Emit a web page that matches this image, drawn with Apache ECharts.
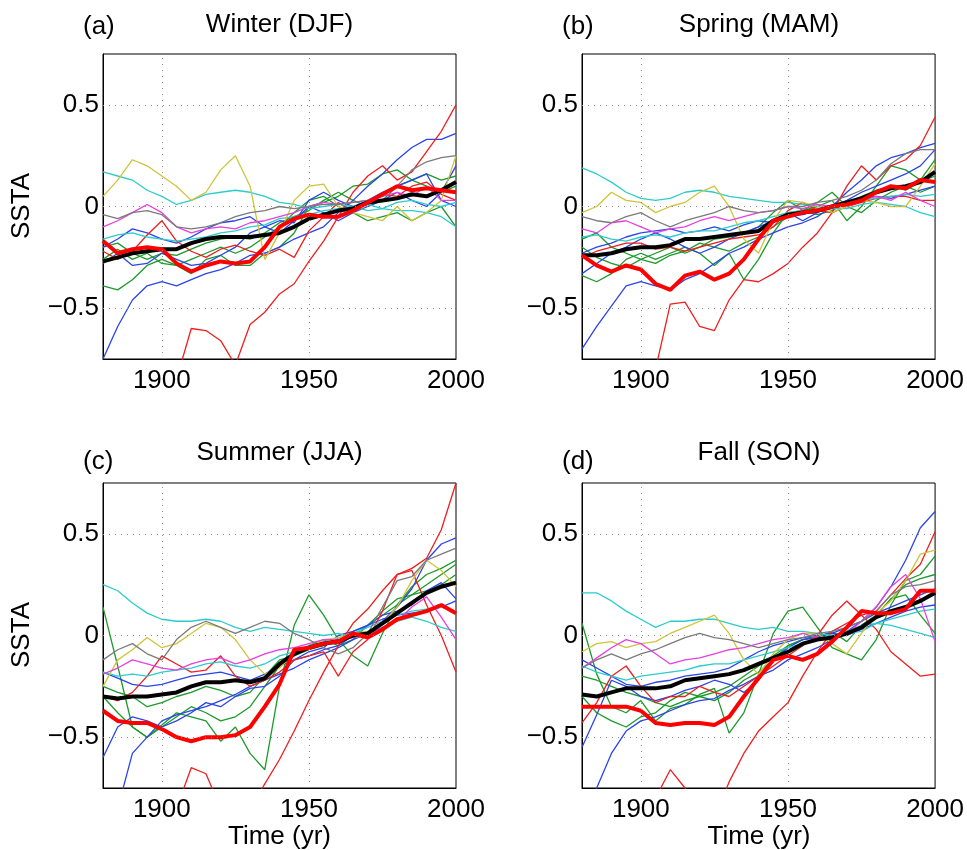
<!DOCTYPE html>
<html>
<head>
<meta charset="utf-8">
<script src="https://cdn.jsdelivr.net/npm/echarts@6/dist/echarts.min.js"></script>
<style>
  html, body { margin: 0; padding: 0; background: #fff; }
  #chart { width: 967px; height: 850px; }
</style>
</head>
<body>
<div id="chart"></div>
<script>
// years, 5-year steps
var years = [1880,1885,1890,1895,1900,1905,1910,1915,1920,1925,1930,1935,1940,1945,1950,1955,1960,1965,1970,1975,1980,1985,1990,1995,2000];
var xTicks = [1900, 1950, 2000];
var yTicks = [-0.5, 0, 0.5];

// (a) Winter (DJF)
var a_black = [-0.27,-0.25,-0.23,-0.22,-0.21,-0.21,-0.18,-0.16,-0.15,-0.15,-0.15,-0.14,-0.13,-0.10,-0.06,-0.04,-0.02,-0.01,0.02,0.03,0.04,0.06,0.05,0.08,0.12];
var a_redThick = [-0.17,-0.23,-0.21,-0.20,-0.21,-0.28,-0.32,-0.29,-0.27,-0.28,-0.27,-0.20,-0.10,-0.06,-0.04,-0.05,-0.05,-0.02,0.02,0.06,0.10,0.08,0.09,0.08,0.07];
var a_red1 = [-0.95,-0.95,-0.95,-0.93,-0.90,-0.85,-0.60,-0.61,-0.66,-0.78,-0.58,-0.52,-0.43,-0.38,-0.27,-0.17,-0.05,0.07,0.15,0.20,0.13,0.17,0.27,0.37,0.50];
var a_red2 = [-0.22,-0.26,-0.22,-0.14,-0.07,-0.17,-0.22,-0.25,-0.21,-0.19,-0.22,-0.24,-0.21,-0.25,-0.12,-0.05,0.02,-0.03,0.03,0.06,0.05,0.10,0.12,0.06,0.03];
var a_cyan1 = [0.17,0.15,0.13,0.08,0.05,0.01,0.03,0.06,0.07,0.08,0.07,0.05,0.02,0.01,-0.01,0.00,0.01,0.00,-0.02,-0.01,-0.02,-0.02,-0.03,-0.05,-0.10];
var a_cyan2 = [-0.16,-0.14,-0.13,-0.15,-0.16,-0.17,-0.16,-0.15,-0.13,-0.12,-0.10,-0.09,-0.06,-0.05,-0.04,-0.02,-0.01,0.00,0.01,-0.01,0.02,0.03,0.01,0.00,0.02];
var a_yellow = [0.05,0.13,0.23,0.20,0.15,0.10,0.03,0.07,0.18,0.25,0.10,-0.26,-0.13,0.03,0.10,0.11,0.00,-0.03,-0.05,-0.07,0.00,-0.07,-0.03,0.03,0.25];
var a_magenta = [-0.10,-0.07,-0.03,0.01,-0.03,-0.10,-0.13,-0.11,-0.10,-0.11,-0.08,-0.07,-0.05,-0.03,0.00,0.02,0.01,0.02,0.03,0.05,0.07,0.05,0.10,0.03,0.03];
var a_gray = [-0.04,-0.06,-0.03,-0.02,-0.04,-0.10,-0.11,-0.10,-0.08,-0.05,-0.03,-0.02,0.00,-0.01,0.00,0.01,0.01,0.02,0.03,0.05,0.10,0.18,0.22,0.24,0.25];
var a_blue1 = [-0.75,-0.59,-0.46,-0.39,-0.37,-0.39,-0.36,-0.33,-0.31,-0.28,-0.24,-0.23,-0.20,-0.16,-0.13,-0.10,-0.03,0.03,0.10,0.16,0.23,0.29,0.33,0.33,0.36];
var a_blue2 = [-0.28,-0.23,-0.29,-0.28,-0.23,-0.26,-0.29,-0.28,-0.24,-0.20,-0.13,-0.10,-0.07,-0.08,0.03,0.07,0.03,0.00,0.03,0.07,0.10,0.13,0.16,0.03,0.00];
var a_blue3 = [-0.20,-0.16,-0.11,-0.13,-0.16,-0.18,-0.15,-0.11,-0.08,-0.07,-0.05,-0.10,-0.13,-0.07,0.00,-0.03,-0.07,-0.03,0.00,0.03,0.07,0.03,0.00,0.07,0.20];
var a_green1 = [-0.39,-0.41,-0.36,-0.29,-0.26,-0.29,-0.33,-0.26,-0.24,-0.29,-0.29,-0.23,-0.20,-0.13,0.00,0.02,0.05,0.10,0.11,0.16,0.18,0.13,0.16,0.13,0.15];
var a_green2 = [-0.26,-0.21,-0.26,-0.23,-0.28,-0.29,-0.26,-0.23,-0.20,-0.23,-0.20,-0.15,-0.10,-0.03,0.03,0.05,0.00,-0.03,-0.07,-0.05,-0.03,-0.07,-0.03,0.00,-0.10];
var a_green3 = [-0.20,-0.18,-0.23,-0.26,-0.23,-0.24,-0.21,-0.18,-0.16,-0.15,-0.16,-0.13,-0.08,-0.05,-0.02,0.03,0.07,0.03,0.00,0.03,0.10,0.13,0.10,0.07,0.10];

// (b) Spring (MAM)
var b_black = [-0.24,-0.24,-0.23,-0.21,-0.20,-0.20,-0.19,-0.16,-0.16,-0.15,-0.14,-0.13,-0.12,-0.07,-0.04,-0.03,-0.02,0.00,0.02,0.04,0.07,0.09,0.10,0.12,0.17];
var b_redThick = [-0.24,-0.29,-0.32,-0.29,-0.31,-0.38,-0.41,-0.34,-0.32,-0.36,-0.33,-0.26,-0.16,-0.07,-0.05,-0.03,-0.02,0.00,0.01,0.03,0.07,0.10,0.09,0.13,0.12];
var b_red1 = [-0.95,-0.95,-0.95,-0.95,-0.90,-0.80,-0.48,-0.47,-0.59,-0.61,-0.46,-0.36,-0.37,-0.33,-0.28,-0.20,-0.13,-0.03,0.10,0.20,0.13,0.20,0.23,0.30,0.44];
var b_red2 = [-0.25,-0.22,-0.20,-0.18,-0.18,-0.21,-0.20,-0.22,-0.20,-0.18,-0.16,-0.15,-0.14,-0.10,-0.02,0.02,-0.02,-0.03,0.00,0.02,0.04,0.05,0.05,0.03,0.03];
var b_cyan1 = [0.19,0.16,0.12,0.07,0.04,0.03,0.04,0.07,0.08,0.07,0.05,0.04,0.03,0.02,0.02,0.01,0.00,-0.01,-0.01,0.01,0.02,0.01,0.00,-0.03,-0.05];
var b_cyan2 = [-0.15,-0.14,-0.16,-0.17,-0.15,-0.14,-0.15,-0.13,-0.12,-0.12,-0.10,-0.08,-0.07,-0.05,-0.03,-0.02,-0.02,0.00,0.02,0.03,0.04,0.05,0.06,0.05,0.06];
var b_yellow = [-0.03,0.00,0.07,0.03,0.02,-0.03,0.00,0.02,0.07,0.10,0.00,-0.16,-0.23,-0.07,0.03,0.02,0.00,-0.03,0.00,0.03,0.02,0.00,0.00,0.10,0.21];
var b_magenta = [-0.11,-0.13,-0.08,-0.07,-0.10,-0.13,-0.11,-0.10,-0.07,-0.05,-0.07,-0.05,-0.03,-0.02,0.00,-0.01,0.01,0.00,0.02,0.03,0.05,0.03,0.07,0.03,0.00];
var b_gray = [-0.05,-0.07,-0.08,-0.05,-0.03,-0.07,-0.10,-0.07,-0.05,-0.03,0.00,-0.02,-0.03,-0.02,0.00,0.00,0.02,0.03,0.05,0.08,0.13,0.21,0.26,0.28,0.28];
var b_blue1 = [-0.70,-0.59,-0.49,-0.39,-0.37,-0.39,-0.41,-0.36,-0.33,-0.28,-0.23,-0.20,-0.16,-0.13,-0.10,-0.08,-0.05,0.00,0.07,0.13,0.20,0.24,0.26,0.29,0.31];
var b_blue2 = [-0.33,-0.28,-0.23,-0.20,-0.16,-0.13,-0.16,-0.20,-0.23,-0.20,-0.16,-0.13,-0.10,-0.07,-0.03,-0.07,-0.03,0.00,0.03,0.07,0.10,0.13,0.16,0.20,0.28];
var b_blue3 = [-0.23,-0.20,-0.18,-0.15,-0.13,-0.12,-0.11,-0.13,-0.12,-0.10,-0.12,-0.09,-0.07,-0.08,-0.05,-0.04,-0.02,-0.01,0.02,0.04,0.05,0.04,0.06,0.08,0.10];
var b_green1 = [-0.34,-0.37,-0.33,-0.26,-0.23,-0.26,-0.23,-0.20,-0.23,-0.29,-0.23,-0.36,-0.26,-0.13,-0.03,-0.02,0.00,0.03,-0.07,0.00,0.10,0.20,0.18,0.13,0.23];
var b_green2 = [-0.16,-0.13,-0.20,-0.23,-0.26,-0.23,-0.20,-0.23,-0.20,-0.16,-0.15,-0.13,-0.10,-0.03,0.03,-0.02,0.02,0.07,0.00,-0.03,0.03,0.07,0.10,0.07,0.10];
var b_green3 = [-0.20,-0.25,-0.28,-0.30,-0.26,-0.28,-0.24,-0.22,-0.18,-0.20,-0.22,-0.18,-0.15,-0.10,-0.05,-0.02,-0.04,-0.02,0.02,0.05,0.08,0.10,0.08,0.12,0.15];

// (c) Summer (JJA)
var c_black = [-0.30,-0.31,-0.30,-0.30,-0.29,-0.28,-0.25,-0.23,-0.23,-0.22,-0.23,-0.21,-0.14,-0.09,-0.06,-0.04,-0.03,0.00,0.01,0.06,0.11,0.16,0.21,0.24,0.26];
var c_redThick = [-0.37,-0.42,-0.43,-0.43,-0.46,-0.50,-0.52,-0.50,-0.50,-0.49,-0.45,-0.35,-0.24,-0.07,-0.06,-0.04,-0.03,0.01,-0.01,0.03,0.08,0.10,0.12,0.15,0.11];
var c_red1 = [-0.95,-0.95,-0.95,-0.95,-0.92,-0.85,-0.65,-0.68,-0.85,-0.95,-0.85,-0.73,-0.61,-0.47,-0.32,-0.18,-0.05,0.06,0.13,0.22,0.30,0.33,0.38,0.52,0.75];
var c_red2 = [-0.30,-0.32,-0.28,-0.20,-0.10,-0.14,-0.18,-0.17,-0.10,-0.20,-0.25,-0.22,-0.18,-0.12,-0.10,-0.08,-0.20,-0.08,-0.02,0.12,0.30,0.32,0.15,0.00,-0.18];
var c_cyan1 = [0.25,0.22,0.16,0.11,0.08,0.07,0.07,0.08,0.07,0.04,0.02,0.04,0.03,0.02,0.01,0.00,0.01,-0.01,0.00,0.04,0.07,0.09,0.07,0.04,0.02];
var c_cyan2 = [-0.18,-0.20,-0.19,-0.20,-0.18,-0.17,-0.16,-0.14,-0.13,-0.15,-0.16,-0.14,-0.10,-0.08,-0.05,-0.03,-0.01,0.01,0.04,0.07,0.10,0.12,0.13,0.14,0.12];
var c_yellow = [-0.25,-0.12,-0.07,-0.01,-0.06,-0.04,0.01,0.06,0.04,-0.02,-0.12,-0.19,-0.16,-0.09,-0.06,-0.02,-0.01,0.01,0.02,0.06,0.14,0.27,0.37,0.32,0.24];
var c_magenta = [-0.19,-0.16,-0.12,-0.14,-0.16,-0.17,-0.14,-0.12,-0.11,-0.14,-0.12,-0.09,-0.07,-0.06,-0.04,-0.02,-0.02,-0.01,0.01,0.04,0.07,0.14,0.19,0.09,-0.02];
var c_gray = [-0.12,-0.07,-0.04,-0.09,-0.12,-0.02,0.04,0.07,0.04,0.01,0.04,0.07,0.06,0.01,-0.02,-0.06,-0.09,-0.06,0.01,0.14,0.27,0.29,0.37,0.40,0.43];
var c_blue1 = [-0.95,-0.85,-0.58,-0.50,-0.42,-0.39,-0.37,-0.35,-0.32,-0.29,-0.25,-0.22,-0.19,-0.16,-0.12,-0.09,-0.06,-0.02,0.01,0.07,0.14,0.23,0.37,0.45,0.48];
var c_blue2 = [-0.60,-0.45,-0.40,-0.42,-0.45,-0.42,-0.38,-0.33,-0.35,-0.30,-0.26,-0.25,-0.20,-0.12,-0.08,-0.06,0.00,0.02,0.05,0.10,0.12,0.15,0.22,0.26,0.18];
var c_blue3 = [-0.18,-0.21,-0.24,-0.25,-0.24,-0.22,-0.20,-0.19,-0.18,-0.20,-0.22,-0.19,-0.15,-0.12,-0.10,-0.07,-0.05,0.00,0.05,0.08,0.10,0.11,0.12,0.14,0.17];
var c_green1 = [0.14,-0.15,-0.45,-0.50,-0.44,-0.38,-0.40,-0.42,-0.52,-0.45,-0.58,-0.66,-0.25,0.05,0.20,0.10,-0.02,-0.10,-0.15,0.01,0.15,0.24,0.30,0.33,0.37];
var c_green2 = [-0.30,-0.38,-0.45,-0.50,-0.45,-0.40,-0.35,-0.38,-0.42,-0.40,-0.35,-0.25,-0.15,-0.10,-0.05,-0.02,-0.05,-0.02,0.05,0.10,0.15,0.20,0.25,0.30,0.35];
var c_green3 = [-0.25,-0.28,-0.30,-0.35,-0.33,-0.30,-0.28,-0.25,-0.27,-0.30,-0.28,-0.20,-0.12,-0.10,-0.07,-0.05,-0.03,0.02,0.05,0.12,0.18,0.20,0.22,0.25,0.30];

// (d) Fall (SON)
var d_black = [-0.29,-0.30,-0.28,-0.26,-0.26,-0.26,-0.25,-0.22,-0.21,-0.20,-0.19,-0.17,-0.14,-0.11,-0.08,-0.04,-0.02,-0.01,0.01,0.04,0.09,0.12,0.14,0.17,0.21];
var d_redThick = [-0.35,-0.35,-0.35,-0.35,-0.37,-0.43,-0.44,-0.43,-0.43,-0.44,-0.40,-0.30,-0.21,-0.12,-0.10,-0.12,-0.09,-0.03,0.04,0.12,0.11,0.11,0.13,0.22,0.22];
var d_red1 = [-0.95,-0.95,-0.95,-0.95,-0.92,-0.80,-0.66,-0.75,-0.85,-0.90,-0.72,-0.58,-0.47,-0.40,-0.33,-0.20,-0.08,0.02,0.06,0.10,0.12,0.20,0.28,0.35,0.51];
var d_red2 = [-0.43,-0.33,-0.20,-0.15,-0.25,-0.33,-0.30,-0.30,-0.25,-0.28,-0.30,-0.25,-0.20,-0.15,-0.10,-0.05,0.00,0.10,0.17,0.10,0.03,-0.08,-0.14,-0.20,-0.19];
var d_cyan1 = [0.21,0.21,0.17,0.12,0.08,0.04,0.07,0.07,0.08,0.08,0.06,0.04,0.03,0.04,0.02,0.02,0.01,0.00,0.01,0.02,0.06,0.08,0.10,0.12,0.13];
var d_cyan2 = [-0.15,-0.18,-0.20,-0.22,-0.20,-0.19,-0.18,-0.17,-0.15,-0.14,-0.14,-0.12,-0.10,-0.08,-0.06,-0.04,-0.02,-0.01,0.02,0.05,0.06,0.05,0.03,0.01,-0.01];
var d_yellow = [-0.08,-0.04,-0.03,-0.06,-0.04,-0.03,0.01,0.04,0.07,0.10,0.01,-0.12,-0.19,-0.09,-0.02,0.01,0.01,-0.04,-0.09,0.01,0.11,0.17,0.27,0.40,0.42];
var d_magenta = [-0.16,-0.11,-0.06,-0.02,-0.04,-0.09,-0.14,-0.12,-0.11,-0.09,-0.07,-0.06,-0.04,-0.02,-0.01,0.01,-0.01,-0.02,0.01,0.07,0.14,0.24,0.30,0.18,-0.03];
var d_gray = [-0.16,-0.12,-0.09,-0.12,-0.09,-0.07,-0.04,-0.01,0.01,-0.01,-0.02,-0.04,-0.06,-0.04,-0.02,-0.01,0.01,0.02,0.04,0.07,0.12,0.20,0.24,0.25,0.27];
var d_blue1 = [-0.95,-0.75,-0.58,-0.47,-0.42,-0.40,-0.37,-0.34,-0.32,-0.31,-0.27,-0.24,-0.20,-0.17,-0.12,-0.09,-0.06,-0.02,0.02,0.07,0.14,0.24,0.37,0.53,0.61];
var d_blue2 = [-0.55,-0.39,-0.22,-0.25,-0.30,-0.32,-0.30,-0.27,-0.25,-0.22,-0.24,-0.28,-0.22,-0.12,-0.06,-0.02,-0.01,0.01,0.04,0.07,0.11,0.14,0.17,0.20,0.23];
var d_blue3 = [-0.12,-0.16,-0.20,-0.24,-0.25,-0.23,-0.22,-0.20,-0.19,-0.18,-0.16,-0.12,-0.08,-0.05,-0.03,-0.01,0.00,0.01,0.00,0.03,0.06,0.09,0.12,0.14,0.15];
var d_green1 = [0.06,-0.19,-0.35,-0.38,-0.32,-0.42,-0.36,-0.34,-0.29,-0.26,-0.48,-0.38,-0.19,0.01,0.12,0.14,0.04,-0.06,-0.09,-0.12,-0.02,0.15,0.27,0.30,0.39];
var d_green2 = [-0.30,-0.38,-0.42,-0.45,-0.40,-0.38,-0.32,-0.28,-0.30,-0.32,-0.28,-0.22,-0.18,-0.12,-0.05,-0.02,-0.01,0.02,-0.03,0.05,0.10,0.18,0.20,0.10,0.01];
var d_green3 = [-0.20,-0.22,-0.25,-0.28,-0.30,-0.33,-0.35,-0.32,-0.30,-0.28,-0.25,-0.20,-0.15,-0.10,-0.05,-0.02,0.00,0.01,0.00,0.05,0.10,0.18,0.25,0.28,0.30];

var BLUE = '#2b45e8', GREEN = '#1c9a2c', RED = '#f01e1e', CYAN = '#2ccccc',
    MAGENTA = '#e83fe0', YELLOW = '#cfc43a', GRAY = '#7a7a7a';
var FONT = "'Liberation Sans', Arial, Helvetica, sans-serif";
var FS = 26;

var panels = [
  { tag: '(a)', title: 'Winter (DJF)', left: 103, top: 54, width: 353,
    thin: [[a_green1, GREEN], [a_green2, GREEN], [a_green3, GREEN], [a_blue1, BLUE], [a_blue2, BLUE], [a_blue3, BLUE],
           [a_red1, RED], [a_red2, RED], [a_cyan1, CYAN], [a_cyan2, CYAN], [a_yellow, YELLOW], [a_magenta, MAGENTA], [a_gray, GRAY]],
    black: a_black, red: a_redThick },
  { tag: '(b)', title: 'Spring (MAM)', left: 582, top: 54, width: 354,
    thin: [[b_green1, GREEN], [b_green2, GREEN], [b_green3, GREEN], [b_blue1, BLUE], [b_blue2, BLUE], [b_blue3, BLUE],
           [b_red1, RED], [b_red2, RED], [b_cyan1, CYAN], [b_cyan2, CYAN], [b_yellow, YELLOW], [b_magenta, MAGENTA], [b_gray, GRAY]],
    black: b_black, red: b_redThick },
  { tag: '(c)', title: 'Summer (JJA)', left: 103, top: 483, width: 353,
    thin: [[c_green1, GREEN], [c_green2, GREEN], [c_green3, GREEN], [c_blue1, BLUE], [c_blue2, BLUE], [c_blue3, BLUE],
           [c_red1, RED], [c_red2, RED], [c_cyan1, CYAN], [c_cyan2, CYAN], [c_yellow, YELLOW], [c_magenta, MAGENTA], [c_gray, GRAY]],
    black: c_black, red: c_redThick },
  { tag: '(d)', title: 'Fall (SON)', left: 582, top: 483, width: 354,
    thin: [[d_green1, GREEN], [d_green2, GREEN], [d_green3, GREEN], [d_blue1, BLUE], [d_blue2, BLUE], [d_blue3, BLUE],
           [d_red1, RED], [d_red2, RED], [d_cyan1, CYAN], [d_cyan2, CYAN], [d_yellow, YELLOW], [d_magenta, MAGENTA], [d_gray, GRAY]],
    black: d_black, red: d_redThick }
];

function pairs(vals) {
  return years.map(function (y, i) { return [y, vals[i]]; });
}
function fmtY(v) {
  return v < 0 ? '\u2212' + Math.abs(v) : String(v);
}

var grids = [], xAxes = [], yAxes = [], series = [], graphics = [];

panels.forEach(function (p, k) {
  grids.push({ left: p.left, top: p.top, width: p.width, height: 305, show: true,
    borderColor: '#000', borderWidth: 1, backgroundColor: '#fff' });
  xAxes.push({ type: 'value', gridIndex: k, min: 1880, max: 2000,
    axisLine: { show: true, onZero: false, lineStyle: { color: '#000' } },
    axisTick: { show: false }, splitLine: { show: false },
    axisLabel: { customValues: xTicks, formatter: function (v) { return String(v); },
      color: '#000', fontSize: FS, fontFamily: FONT, margin: 9 } });
  yAxes.push({ type: 'value', gridIndex: k, min: -0.75, max: 0.75,
    axisLine: { show: true, onZero: false, lineStyle: { color: '#000' } },
    axisTick: { show: false }, splitLine: { show: false },
    axisLabel: { customValues: yTicks, formatter: fmtY, color: '#000', fontSize: FS, fontFamily: FONT, margin: 4 } });

  // dotted grid lines
  series.push({ type: 'line', xAxisIndex: k, yAxisIndex: k, data: [], silent: true, z: 1,
    markLine: { silent: true, symbol: 'none', label: { show: false }, animation: false,
      lineStyle: { type: [1, 5], color: '#8a8a8a', width: 1 },
      data: [{ xAxis: 1900 }, { xAxis: 1950 }, { yAxis: 0.5 }, { yAxis: 0 }, { yAxis: -0.5 }] } });

  p.thin.forEach(function (t) {
    series.push({ type: 'line', xAxisIndex: k, yAxisIndex: k, data: pairs(t[0]), showSymbol: false,
      clip: true, z: 2, lineStyle: { color: t[1], width: 1.3 } });
  });
  series.push({ type: 'line', xAxisIndex: k, yAxisIndex: k, data: pairs(p.black), showSymbol: false,
    clip: true, z: 3, lineStyle: { color: '#000', width: 4 } });
  series.push({ type: 'line', xAxisIndex: k, yAxisIndex: k, data: pairs(p.red), showSymbol: false,
    clip: true, z: 4, lineStyle: { color: '#ff0000', width: 4 } });

  var cx = p.left + p.width / 2;
  var top = k < 2;
  graphics.push({ type: 'text', x: p.left - 20, y: top ? 27 : 462,
    style: { text: p.tag, fontSize: FS, fontFamily: FONT, fill: '#000', textVerticalAlign: 'middle' } });
  graphics.push({ type: 'text', x: cx, y: top ? 25 : 453,
    style: { text: p.title, fontSize: FS, fontFamily: FONT, fill: '#000', textAlign: 'center', textVerticalAlign: 'middle' } });
  if (k % 2 === 0) {
    graphics.push({ type: 'text', x: 22, y: p.top + 152, rotation: Math.PI / 2,
      style: { text: 'SSTA', fontSize: FS, fontFamily: FONT, fill: '#000', textAlign: 'center', textVerticalAlign: 'middle' } });
  }
  if (!top) {
    graphics.push({ type: 'text', x: cx, y: 837,
      style: { text: 'Time (yr)', fontSize: FS, fontFamily: FONT, fill: '#000', textAlign: 'center', textVerticalAlign: 'middle' } });
  }
});

var chart = echarts.init(document.getElementById('chart'));
chart.setOption({
  animation: false,
  backgroundColor: '#fff',
  grid: grids,
  xAxis: xAxes,
  yAxis: yAxes,
  series: series,
  graphic: graphics
});
</script>
</body>
</html>
